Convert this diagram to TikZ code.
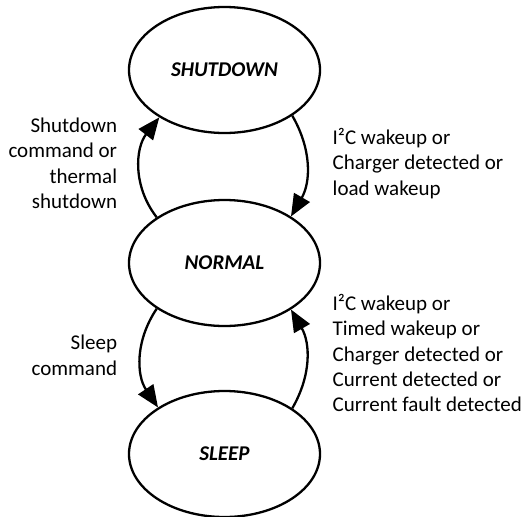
\documentclass[tikz,border=0pt]{standalone}
\usepackage{fontspec}
\setmainfont{Carlito}
\usetikzlibrary{shapes.geometric,arrows.meta}
\begin{document}
\begin{tikzpicture}[x=1pt,y=1pt,
  state/.style={draw, ellipse, line width=2.3pt, minimum width=191pt, minimum height=126pt,
    inner sep=0pt, font=\fontsize{21}{25.3}\selectfont\bfseries\itshape},
  lbl/.style={inner sep=0pt, font=\fontsize{21}{25.3}\selectfont},
  trans/.style={line width=2.3pt, -{Triangle[length=22pt,width=18pt]}}]
\path[use as bounding box, fill=white] (0,-517) rectangle (528,0);

\node[state] (S) at (224.5,-70) {SHUTDOWN};
\node[state] (N) at (224.5,-263) {NORMAL};
\node[state] (L) at (224.5,-454) {SLEEP};

\draw[trans] (N.146) to[out=128, in=-128] (S.216);
\draw[trans] (S.326) to[out=-60, in=60] (N.35);
\draw[trans] (N.214) to[out=-124, in=124] (L.145);
\draw[trans] (L.34) to[out=60, in=-60] (N.325);

\node[lbl, anchor=base east, align=right] (lt) at (117.3,-208.3)
  {Shutdown\\command or\\thermal\\shutdown};
\node[lbl, anchor=base west, align=left] (rt) at (332.5,-195)
  {I²C wakeup or\\Charger detected or\\load wakeup};
\node[lbl, anchor=base east, align=right] (lb) at (117.3,-375)
  {Sleep\\command};
\node[lbl, anchor=base west, align=left] (rb) at (332.5,-411.7)
  {I²C wakeup or\\Timed wakeup or\\Charger detected or\\Current detected or\\Current fault detected};
\end{tikzpicture}
\end{document}
